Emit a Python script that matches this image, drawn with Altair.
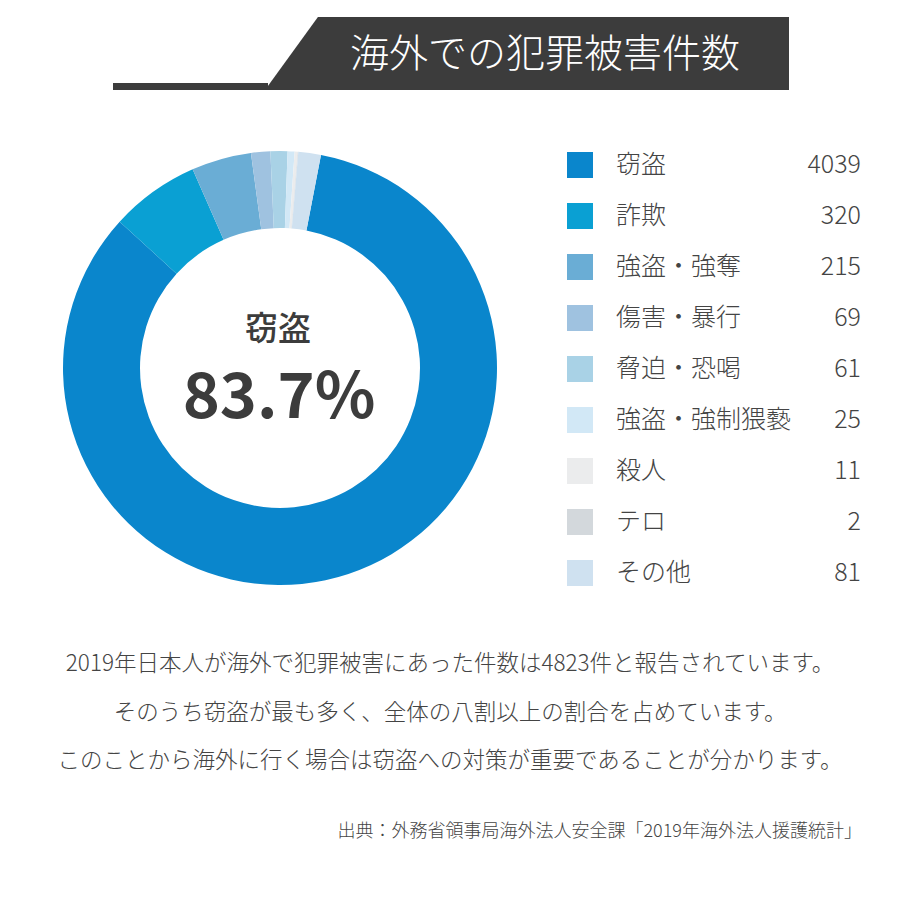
import altair as alt
import pandas as pd

# ---- data ----
categories = ["窃盗", "詐欺", "強盗・強奪", "傷害・暴行", "脅迫・恐喝",
              "強盗・強制猥褻", "殺人", "テロ", "その他"]
counts = [4039, 320, 215, 69, 61, 25, 11, 2, 81]
colors = ["#0a86cc", "#0aa0d3", "#6aadd5", "#9fc2e0", "#a9d2e6",
          "#d2e8f6", "#ebeced", "#d3d8dc", "#cfe1f0"]
title_text = "海外での犯罪被害件数"
body_lines = [
    "2019年日本人が海外で犯罪被害にあった件数は4823件と報告されています。",
    "そのうち窃盗が最も多く、全体の八割以上の割合を占めています。",
    "このことから海外に行く場合は窃盗への対策が重要であることが分かります。",
]
source_text = "出典：外務省領事局海外法人安全課「2019年海外法人援護統計」"

FONT = "Noto Sans CJK JP"
TXT = "#444444"
DARK = "#3c3c3c"
OFF = 8  # page margin

df = pd.DataFrame({
    "category": categories,
    "count": counts,
    "idx": list(range(len(categories))),
    "label": [str(c) for c in counts],
})
total = sum(counts)
top_pct = f"{counts[0] / total * 100:.1f}%"

color_scale = alt.Scale(domain=categories, range=colors)
base = alt.Chart(df)

# ---- donut ----
start = 0.19
donut = base.mark_arc(radius=217, radius2=140, stroke=None).encode(
    theta=alt.Theta("count:Q", stack=True,
                    scale=alt.Scale(range=[start, start + 6.283185])),
    order=alt.Order("idx:Q"),
    color=alt.Color("category:N", scale=color_scale, legend=None),
    x=alt.value(280 - OFF),
    y=alt.value(368 - OFF),
)

center_name = alt.Chart(pd.DataFrame({"t": [categories[0]]})).mark_text(
    font=FONT, fontSize=33, fontWeight=500, color=DARK, baseline="middle", align="center"
).encode(text="t:N", x=alt.value(278 - OFF), y=alt.value(330 - OFF))

center_pct = alt.Chart(pd.DataFrame({"t": [top_pct]})).mark_text(
    font=FONT, fontSize=63, fontWeight="bold", color=DARK, baseline="middle", align="center"
).encode(text="t:N", x=alt.value(279 - OFF), y=alt.value(399 - OFF))

# ---- legend (manual) ----
yenc = alt.Y("category:N", sort=categories, axis=None,
             scale=alt.Scale(type="point", range=[165 - OFF, 573 - OFF], padding=0))

swatch = base.mark_square(size=676, opacity=1, strokeWidth=0).encode(
    x=alt.value(580 - OFF), y=yenc,
    color=alt.Color("category:N", scale=color_scale, legend=None),
)
leg_label = base.mark_text(font=FONT, fontSize=25, fontWeight=300, color=TXT, align="left",
                           baseline="middle").encode(
    x=alt.value(616 - OFF), y=yenc, text="category:N")
leg_value = base.mark_text(font=FONT, fontSize=25, fontWeight=300, color=TXT, align="right",
                           baseline="middle").encode(
    x=alt.value(861 - OFF), y=yenc, text="label:N")

# ---- title banner ----
banner_path = "M-0.798,-0.139 L1,-0.139 L1,0.139 L-1,0.139 Z"
banner = alt.Chart(pd.DataFrame({"a": [0]})).mark_point(
    shape=banner_path, size=524 * 524, filled=True, fill=DARK, opacity=1, strokeWidth=0
).encode(x=alt.value(527 - OFF), y=alt.value(53.5 - OFF))
bar = alt.Chart(pd.DataFrame({"a": [0]})).mark_rule(color=DARK, strokeWidth=7).encode(
    x=alt.value(113 - OFF), x2=alt.value(268 - OFF), y=alt.value(86.5 - OFF))
title = alt.Chart(pd.DataFrame({"t": [title_text]})).mark_text(
    font=FONT, fontSize=39, fontWeight=300, color="white", align="center", baseline="middle"
).encode(text="t:N", x=alt.value(545 - OFF), y=alt.value(55 - OFF))

# ---- body text ----
body_df = pd.DataFrame({"t": body_lines, "i": [0, 1, 2]})
body = alt.Chart(body_df).mark_text(
    font=FONT, fontSize=22.5, fontWeight=300, color=TXT, align="center", baseline="middle"
).encode(
    text="t:N", x=alt.value(450 - OFF),
    y=alt.Y("i:O", axis=None, scale=alt.Scale(type="point", range=[664 - OFF, 761 - OFF], padding=0)),
)
source = alt.Chart(pd.DataFrame({"t": [source_text]})).mark_text(
    font=FONT, fontSize=18, fontWeight=300, color=TXT, align="right", baseline="middle"
).encode(text="t:N", x=alt.value(862 - OFF), y=alt.value(832 - OFF))

chart = alt.layer(
    banner, bar, title, donut, center_name, center_pct,
    swatch, leg_label, leg_value, body, source
).resolve_scale(y="independent").properties(
    width=884, height=884, padding=0,
    autosize=alt.AutoSizeParams(type="none"),
    background="white",
).configure_view(stroke=None)

chart.save("out.html", embed_options={"renderer": "svg", "actions": False})
